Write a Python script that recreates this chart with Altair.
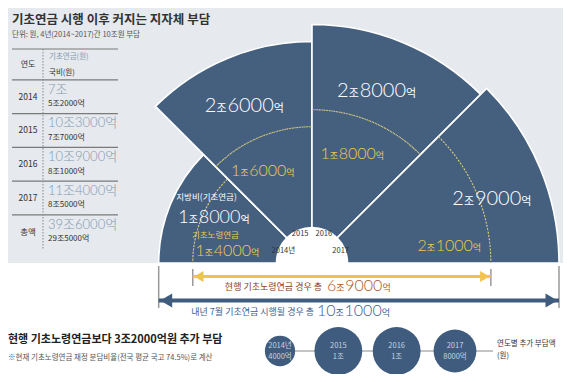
import math
import altair as alt
import pandas as pd

# ---------------- data ----------------
years = [2014, 2015, 2016, 2017]
year_labels = ["2014년", "2015", "2016", "2017"]
local_basic = [1.8, 2.6, 2.8, 2.9]     # 지방비(기초연금), 조원
local_oldage = [1.4, 1.6, 1.8, 2.1]    # 지방비(기초노령연금), 조원
total_oldage = 6.9
total_basic = 10.1

table_years = ["2014", "2015", "2016", "2017", "총액"]
table_basic = ["7조", "10조3000억", "10조9000억", "11조4000억", "39조6000억"]
table_state = ["5조2000억", "7조7000억", "8조1000억", "8조5000억", "29조5000억"]

extra_values = [0.4, 1.0, 1.0, 0.8]    # 연도별 추가 부담액, 조원
extra_labels = ["4000억", "1조", "1조", "8000억"]


def won(v):
    jo = int(v + 1e-9)
    eok = int(round((v - jo) * 10000))
    return str(jo), (f"{eok:04d}" if eok else "")


# ---------------- layout / style ----------------
W, H = 555, 366
def X(px): return px - 8
def Y(py): return py - 8
CX, CY = X(312), Y(263)
R_PX = 247

BG = "#e6e9ed"
BLUE = "#45607f"
YEL = "#edca4f"
YDOT = "#dccb82"
ARR_Y = "#f3c24e"
ARR_B = "#3f5b7d"
TBL = "#8399b2"
KR = "'Noto Sans CJK KR'"
NUM = "Lato, 'Noto Sans CJK KR'"

theta_scale = alt.Scale(domain=[0, 180], range=[-math.pi / 2, math.pi / 2])
r_scale = alt.Scale(type="linear", domain=[0, max(local_basic)], range=[0, R_PX], zero=True, nice=False)
one = pd.DataFrame({"a": [0]})

df_w = pd.DataFrame({"year": years, "basic": local_basic, "old": local_oldage, "ylab": year_labels})
df_w["t0"] = [45 * i for i in range(len(years))]
df_w["t1"] = df_w["t0"] + 45
df_w["mid"] = df_w["t0"] + 22.5

polar = dict(x=alt.value(CX), y=alt.value(CY))

layers = []
# background
layers.append(alt.Chart(one).mark_rect(color=BG).encode(
    x=alt.value(0), x2=alt.value(W), y=alt.value(0), y2=alt.value(CY)))

# wedges
layers.append(alt.Chart(df_w).mark_arc(color=BLUE, stroke="white", strokeWidth=1.6).encode(
    theta=alt.Theta("t0:Q", scale=theta_scale, stack=False), theta2="t1:Q",
    radius=alt.Radius("basic:Q", scale=r_scale), **polar))

# dotted old-age pension arcs
layers.append(alt.Chart(df_w).mark_arc(filled=False, stroke=YDOT, strokeWidth=1.1, strokeDash=[1.2, 2.2]).encode(
    theta=alt.Theta("t0:Q", scale=theta_scale, stack=False), theta2="t1:Q",
    radius=alt.Radius("old:Q", scale=r_scale), radius2="old:Q", **polar))

# inner white circle
layers.append(alt.Chart(one).mark_circle(color="white", opacity=1, size=math.pi * 41 ** 2).encode(**polar))

# year labels inside circle
layers.append(alt.Chart(df_w).mark_text(fontSize=7.5, font=KR, color="#333").encode(
    theta=alt.Theta("mid:Q", scale=theta_scale, stack=False), radius=alt.value(31),
    text="ylab:N", **polar))


def compound(df, enc, sb, ss, color, lead_len=1, anchor="center"):
    d = 0.58 * sb
    width = (lead_len + 4) * d + 2 * ss
    start = -width / 2 if anchor == "center" else 0
    jo_x = start + lead_len * d
    dy = 0.36 * sb
    base = alt.Chart(df)
    com = dict(dy=dy, color=color, baseline="alphabetic")
    return [
        base.mark_text(align="right", dx=jo_x, fontSize=sb, font=NUM, fontWeight=300, **com).encode(text="lead:N", **enc),
        base.mark_text(align="left", dx=jo_x, fontSize=ss, font=KR, **com).encode(text=alt.value("조"), **enc),
        base.mark_text(align="left", dx=jo_x + ss, fontSize=sb, font=NUM, fontWeight=300, **com).encode(text="tail:N", **enc),
        base.mark_text(align="left", dx=jo_x + ss + 4 * d, fontSize=ss, font=KR, **com).encode(text=alt.value("억"), **enc),
    ]


penc = dict(theta=alt.Theta("theta:Q", scale=theta_scale, stack=False),
            radius=alt.Radius("r:Q", scale=r_scale), **polar)

white_lab = pd.DataFrame({"theta": [25.5, 67, 110.6, 160.2], "r": [1.27, 2.02, 2.17, 2.25]})
white_lab["lead"] = [won(v)[0] for v in local_basic]
white_lab["tail"] = [won(v)[1] for v in local_basic]
yel_lab = pd.DataFrame({"theta": [8.5, 62.2, 110.4, 172.6], "r": [1.0, 1.23, 1.37, 1.63]})
yel_lab["lead"] = [won(v)[0] for v in local_oldage]
yel_lab["tail"] = [won(v)[1] for v in local_oldage]
layers += compound(white_lab.iloc[[0]], penc, 18, 10, "white")
layers += compound(white_lab.iloc[1:], penc, 20, 11, "white")
layers += compound(yel_lab, penc, 16, 9, YEL)

cap = pd.DataFrame({"theta": [32, 16.0], "r": [1.46, 1.18], "t": ["지방비(기초연금)", "기초노령연금"], "c": ["white", YEL]})
layers.append(alt.Chart(cap).mark_text(fontSize=8.5, font=KR).encode(
    text="t:N", color=alt.Color("c:N", scale=None), **penc))

# ---------------- titles ----------------
layers.append(alt.Chart(one).mark_text(align="left", fontSize=12.5, fontWeight="bold", font=KR, color="#333").encode(
    x=alt.value(X(12)), y=alt.value(Y(20)), text=alt.value("기초연금 시행 이후 커지는 지자체 부담")))
layers.append(alt.Chart(one).mark_text(align="left", fontSize=7.5, font=KR, color="#555").encode(
    x=alt.value(X(12)), y=alt.value(Y(35)), text=alt.value("단위: 원, 4년(2014~2017)간 10조원 부담")))

# ---------------- table ----------------
tbl_y = alt.Scale(domain=[0, len(table_years) - 1], range=[Y(96.7), Y(231.7)])
df_t = pd.DataFrame({"i": range(len(table_years)), "year": table_years, "basic": table_basic, "state": table_state})
df_r = pd.DataFrame({"pos": [i - 0.5 for i in range(len(table_years))]})
layers.append(alt.Chart(df_r).mark_rule(color="#7a7a7a", strokeWidth=1.2).encode(
    y=alt.Y("pos:Q", scale=tbl_y, axis=None), x=alt.value(X(12)), x2=alt.value(X(118))))
layers.append(alt.Chart(one).mark_rule(color="#7a7a7a", strokeWidth=1.2).encode(
    y=alt.value(Y(49)), x=alt.value(X(12)), x2=alt.value(X(118))))
layers.append(alt.Chart(one).mark_rule(color="#888", strokeWidth=1, strokeDash=[1.5, 1.5]).encode(
    x=alt.value(X(43)), y=alt.value(Y(49)), y2=alt.value(Y(250))))
layers.append(alt.Chart(one).mark_text(fontSize=8, font=KR, color="#333").encode(
    x=alt.value(X(28)), y=alt.value(Y(65)), text=alt.value("연도")))
layers.append(alt.Chart(one).mark_text(align="left", fontSize=7.5, font=KR, color=TBL).encode(
    x=alt.value(X(49)), y=alt.value(Y(57)), text=alt.value("기초연금(원)")))
layers.append(alt.Chart(one).mark_text(align="left", fontSize=7.5, font=KR, color="#333").encode(
    x=alt.value(X(49)), y=alt.value(Y(73)), text=alt.value("국비(원)")))
layers.append(alt.Chart(df_t).mark_text(fontSize=8.5, font=KR, color="#333").encode(
    x=alt.value(X(28)), y=alt.Y("i:Q", scale=tbl_y, axis=None), text="year:N"))
layers.append(alt.Chart(df_t).mark_text(align="left", fontSize=13, font=NUM, fontWeight=300, color=TBL, dy=-7).encode(
    x=alt.value(X(48)), y=alt.Y("i:Q", scale=tbl_y, axis=None), text="basic:N"))
layers.append(alt.Chart(df_t).mark_text(align="left", fontSize=8, font=KR, color="#333", dy=7.5).encode(
    x=alt.value(X(48)), y=alt.Y("i:Q", scale=tbl_y, axis=None), text="state:N"))

# ---------------- arrows ----------------
k = R_PX / max(local_basic)
ax = alt.Scale(domain=[-CX / k, (W - CX) / k], range=[0, W], zero=False, nice=False)
df_a = pd.DataFrame({
    "lo": [-local_oldage[0], -local_basic[0]],
    "hi": [local_oldage[-1], local_basic[-1]],
})
ya = df_a.iloc[[0]]
ba = df_a.iloc[[1]]
for d_, yy, y1, y2, col, sw, sz, off in [
    (ya, Y(276.5), Y(269), Y(286), ARR_Y, 3, 120, 6),
    (ba, Y(300.5), Y(266), Y(308), ARR_B, 4, 190, 7.5),
]:
    layers.append(alt.Chart(d_).mark_rule(color="#9a9a9a", strokeWidth=1.5).encode(
        x=alt.X("lo:Q", scale=ax, axis=None), y=alt.value(y1), y2=alt.value(y2)))
    layers.append(alt.Chart(d_).mark_rule(color="#9a9a9a", strokeWidth=1.5).encode(
        x=alt.X("hi:Q", scale=ax, axis=None), y=alt.value(y1), y2=alt.value(y2)))
    layers.append(alt.Chart(d_).mark_rule(color=col, strokeWidth=sw).encode(
        x=alt.X("lo:Q", scale=ax, axis=None), x2="hi:Q", y=alt.value(yy)))
    layers.append(alt.Chart(d_).mark_point(shape="triangle-left", filled=True, size=sz, color=col, opacity=1, xOffset=off).encode(
        x=alt.X("lo:Q", scale=ax, axis=None), y=alt.value(yy)))
    layers.append(alt.Chart(d_).mark_point(shape="triangle-right", filled=True, size=sz, color=col, opacity=1, xOffset=-off).encode(
        x=alt.X("hi:Q", scale=ax, axis=None), y=alt.value(yy)))

# arrow captions
layers.append(alt.Chart(one).mark_text(align="right", fontSize=9, font=KR, color="#8e3b22").encode(
    x=alt.value(X(322)), y=alt.value(Y(287)), text=alt.value("현행 기초노령연금 경우  총")))
t_old = pd.DataFrame({"lead": [won(total_oldage)[0]], "tail": [won(total_oldage)[1]]})
layers += compound(t_old, dict(x=alt.value(X(327)), y=alt.value(Y(285))), 16, 9, "#b0562a", 1, "left")
layers.append(alt.Chart(one).mark_text(align="right", fontSize=9, font=KR, color="#3e6190").encode(
    x=alt.value(X(314)), y=alt.value(Y(312)), text=alt.value("내년 7월 기초연금 시행될 경우  총")))
t_bas = pd.DataFrame({"lead": [won(total_basic)[0]], "tail": [won(total_basic)[1]]})
layers += compound(t_bas, dict(x=alt.value(X(317)), y=alt.value(Y(310))), 16, 9, "#3e6190", 2, "left")

# ---------------- bottom ----------------
layers.append(alt.Chart(one).mark_text(align="left", fontSize=11, fontWeight="bold", font=KR, color="#222").encode(
    x=alt.value(0), y=alt.value(Y(340)), text=alt.value("현행 기초노령연금보다 3조2000억원 추가 부담")))
layers.append(alt.Chart(one).mark_text(align="left", fontSize=7.5, font=KR, color="#555").encode(
    x=alt.value(0), y=alt.value(Y(358)), text=alt.value("※현재 기초노령연금 재정 분담비율(전국 평균 국고 74.5%)로 계산")))

cs = alt.Scale(domain=[min(years), max(years)], range=[X(280), X(455)], zero=False, nice=False)
df_c = pd.DataFrame({"year": years, "v": extra_values, "yl": year_labels, "vl": extra_labels})
layers.append(alt.Chart(df_c.iloc[[0]]).mark_rule(color="#8a8a8a", strokeWidth=1.2).encode(
    x=alt.X("year:Q", scale=cs, axis=None), x2=alt.value(X(493)), y=alt.value(Y(351))))
layers.append(alt.Chart(df_c).mark_circle(color="#3f5c7e", opacity=1).encode(
    x=alt.X("year:Q", scale=cs, axis=None), y=alt.value(Y(351)),
    size=alt.Size("v:Q", scale=alt.Scale(domain=[0, 1], range=[0, 2290]), legend=None)))
layers.append(alt.Chart(df_c).mark_text(fontSize=7.5, font=KR, color="#c8d3df", dy=-5).encode(
    x=alt.X("year:Q", scale=cs, axis=None), y=alt.value(Y(351)), text="yl:N"))
layers.append(alt.Chart(df_c).mark_text(fontSize=7.5, font=KR, color="#c8d3df", dy=6).encode(
    x=alt.X("year:Q", scale=cs, axis=None), y=alt.value(Y(351)), text="vl:N"))
layers.append(alt.Chart(one).mark_text(align="left", fontSize=7.5, font=KR, color="#333").encode(
    x=alt.value(X(497)), y=alt.value(Y(344)), text=alt.value("연도별 추가 부담액")))
layers.append(alt.Chart(one).mark_text(align="left", fontSize=7.5, font=KR, color="#333").encode(
    x=alt.value(X(497)), y=alt.value(Y(356)), text=alt.value("(원)")))

chart = alt.layer(*layers).properties(
    width=W, height=H, autosize=alt.AutoSizeParams(type="none"), padding=0, background="white"
).resolve_scale(x="independent", y="independent", size="independent").configure_view(stroke=None)

chart.save("out.html", embed_options={"renderer": "svg", "actions": False})
